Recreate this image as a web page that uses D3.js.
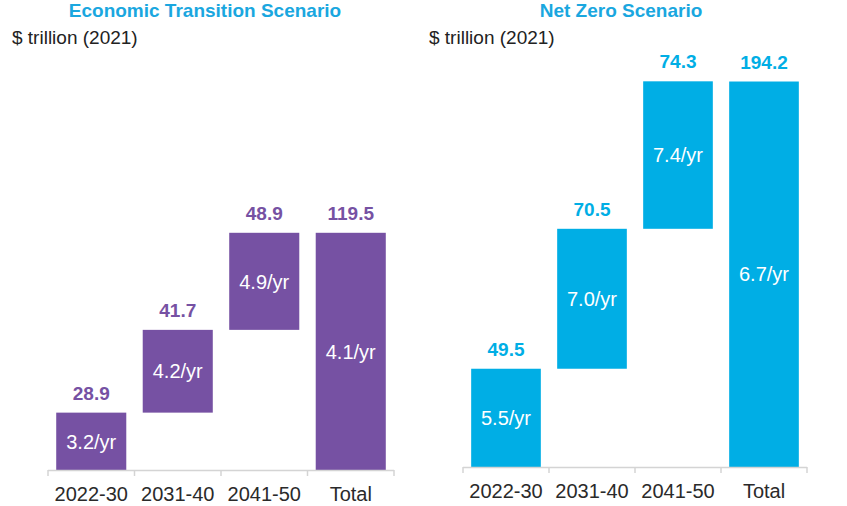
<!DOCTYPE html>
<html>
<head>
<meta charset="utf-8">
<script src="https://cdn.jsdelivr.net/npm/d3@7"></script>
<style>
  html, body { margin: 0; padding: 0; background: #fff; }
  svg { display: block; font-family: "Liberation Sans", Arial, sans-serif; }
</style>
</head>
<body>
<svg id="chart" width="847" height="506"></svg>
<script>
// ── Data ──────────────────────────────────────────────────────────────────────
const categories   = ['2022-30', '2031-40', '2041-50', 'Total'];
const periods      = ['2022-30', '2031-40', '2041-50'];

const etsValues    = [28.9, 41.7, 48.9];
const etsTotal     = 119.5;
const etsPerYear   = ['3.2/yr', '4.2/yr', '4.9/yr', '4.1/yr'];

const nzsValues    = [49.5, 70.5, 74.3];
const nzsTotal     = 194.2;
const nzsPerYear   = ['5.5/yr', '7.0/yr', '7.4/yr', '6.7/yr'];

const titles       = ['Economic Transition Scenario', 'Net Zero Scenario'];
const unitLabel    = '$ trillion (2021)';

const TITLE_COLOR = '#1aa7df';
const AXIS_COLOR  = '#d4d4d4';

const svg = d3.select('#chart');

// ── One waterfall panel ──────────────────────────────────────────────────────
function drawPanel(opts) {
  const { values, total, perYear, title, color, x0, x1, base, titleX, unitX } = opts;

  const x = d3.scaleBand()
    .domain(categories)
    .range([x0, x1])
    .paddingInner(0.19)
    .paddingOuter(0.095);

  const y = d3.scaleLinear().domain([0, 200]).range([base, base - 397]);

  // segments: running sum for the periods, then the total from zero
  let acc = 0;
  const bars = values.map((v, i) => {
    const d = { cat: periods[i], lo: acc, hi: acc + v, label: v.toFixed(1), rate: perYear[i] };
    acc += v;
    return d;
  });
  bars.push({ cat: 'Total', lo: 0, hi: total, label: total.toFixed(1), rate: perYear[3] });

  const g = svg.append('g');

  g.append('text')
    .attr('x', titleX).attr('y', 17)
    .attr('text-anchor', 'middle')
    .attr('font-size', 19).attr('font-weight', 'bold')
    .attr('fill', TITLE_COLOR)
    .text(title);

  g.append('text')
    .attr('x', unitX).attr('y', 44)
    .attr('font-size', 19)
    .attr('fill', '#222')
    .text(unitLabel);

  g.selectAll('rect.bar')
    .data(bars)
    .enter().append('rect')
    .attr('class', 'bar')
    .attr('x', d => x(d.cat))
    .attr('width', x.bandwidth())
    .attr('y', d => y(d.hi))
    .attr('height', d => y(d.lo) - y(d.hi))
    .attr('fill', color);

  // value on top
  g.selectAll('text.val')
    .data(bars)
    .enter().append('text')
    .attr('class', 'val')
    .attr('x', d => x(d.cat) + x.bandwidth() / 2)
    .attr('y', d => y(d.hi) - 13)
    .attr('text-anchor', 'middle')
    .attr('font-size', 19).attr('font-weight', 'bold')
    .attr('fill', color)
    .text(d => d.label);

  // per-year rate inside bar
  g.selectAll('text.rate')
    .data(bars)
    .enter().append('text')
    .attr('class', 'rate')
    .attr('x', d => x(d.cat) + x.bandwidth() / 2)
    .attr('y', d => (y(d.hi) + y(d.lo)) / 2)
    .attr('dy', '0.36em')
    .attr('text-anchor', 'middle')
    .attr('font-size', 20)
    .attr('fill', '#fff')
    .text(d => d.rate);

  // axis: baseline with ticks between categories
  const step = x.step();
  const edges = categories.map(c => x(c) - step * x.paddingInner() / 2)
    .concat([x(categories[categories.length - 1]) + x.bandwidth() + step * x.paddingInner() / 2]);

  g.append('line')
    .attr('x1', edges[0]).attr('x2', edges[edges.length - 1])
    .attr('y1', base + 0.5).attr('y2', base + 0.5)
    .attr('stroke', AXIS_COLOR).attr('stroke-width', 1.5);

  g.selectAll('line.tick')
    .data(edges)
    .enter().append('line')
    .attr('class', 'tick')
    .attr('x1', d => d).attr('x2', d => d)
    .attr('y1', base).attr('y2', base + 6)
    .attr('stroke', AXIS_COLOR).attr('stroke-width', 1.5);

  const axis = g.append('g')
    .attr('transform', `translate(0,${base})`)
    .call(d3.axisBottom(x).tickSize(0).tickPadding(17));
  axis.select('.domain').remove();
  axis.selectAll('text')
    .attr('font-size', 20)
    .attr('font-family', '"Liberation Sans", Arial, sans-serif')
    .attr('fill', '#2a2a2a');
}

drawPanel({
  values: etsValues, total: etsTotal, perYear: etsPerYear,
  title: titles[0], color: '#7651a3',
  x0: 48, x1: 394, base: 470, titleX: 205, unitX: 12,
});

drawPanel({
  values: nzsValues, total: nzsTotal, perYear: nzsPerYear,
  title: titles[1], color: '#00aee5',
  x0: 463, x1: 807, base: 467, titleX: 621, unitX: 429,
});
</script>
</body>
</html>
